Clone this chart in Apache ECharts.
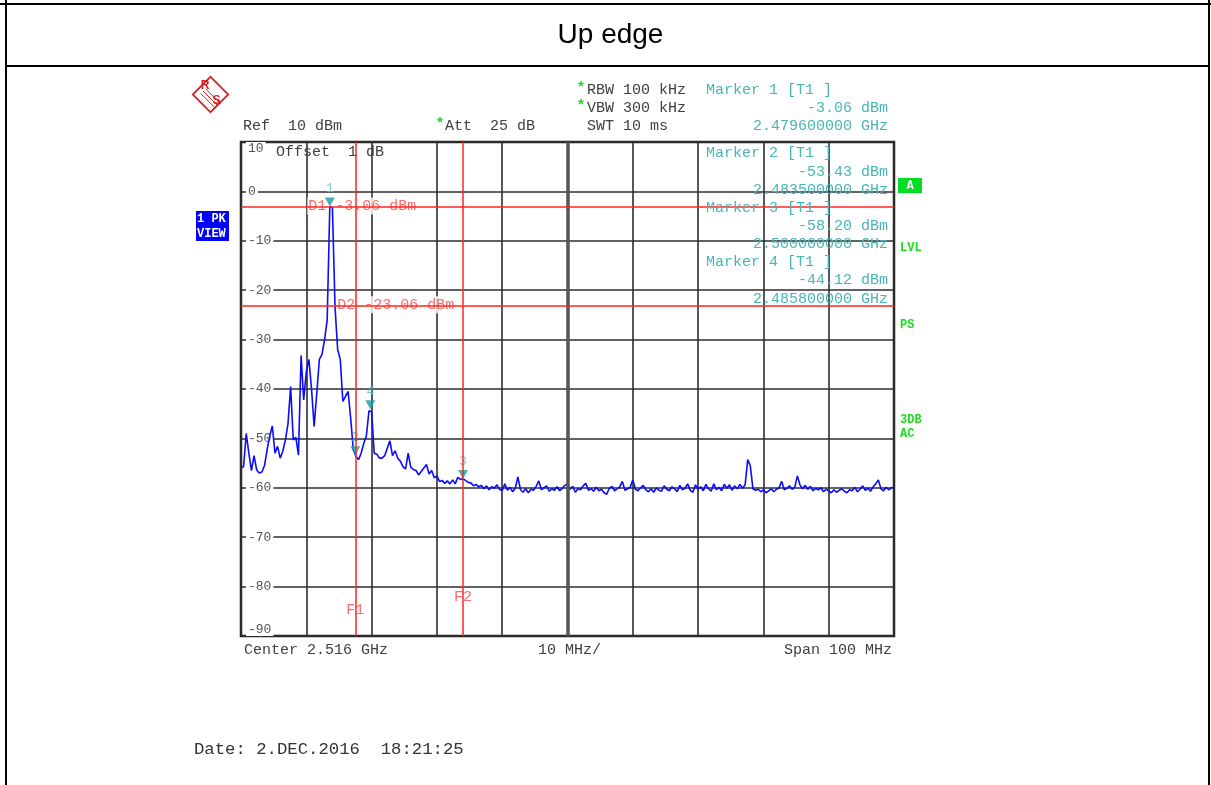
<!DOCTYPE html>
<html><head><meta charset="utf-8">
<script src="https://cdn.jsdelivr.net/npm/echarts@6/dist/echarts.min.js"></script>
<style>html,body{margin:0;padding:0;background:#fff}#c{width:1211px;height:785px}</style>
</head><body><div id="c"></div>
<script>
// ---- sweep settings ----
const centerMHz = 2516;
const spanMHz = 100;
const divMHz = 10;
const sweepStartMHz = 2466;
const sweepStepMHz = 0.4;
const refLevel = 10;
const bottomLevel = -90;
const levelStep = 10;

// ---- trace (dBm), one value per sweep point ----
const traceLevels = [
-56.0,-55.7,-49.0,-53.0,-56.5,-53.5,-56.4,-57.0,-56.8,-55.5,
-52.3,-49.5,-47.5,-53.0,-51.6,-54.0,-52.6,-50.3,-47.0,-39.5,
-50.3,-49.8,-53.4,-33.2,-42.2,-36.5,-34.0,-40.0,-47.6,-40.9,
-34.0,-33.0,-30.0,-26.0,-3.06,-3.3,-23.4,-32.0,-34.0,-42.5,
-41.5,-40.5,-46.0,-52.3,-53.6,-54.3,-53.0,-51.0,-49.5,-44.4,
-44.6,-53.0,-53.2,-54.0,-54.0,-53.5,-52.0,-50.5,-53.5,-52.5,
-54.0,-54.6,-55.7,-56.2,-53.0,-55.8,-56.3,-56.5,-57.4,-56.7,
-56.0,-55.3,-57.2,-56.5,-58.0,-57.6,-58.7,-58.5,-59.1,-58.6,
-59.2,-58.4,-59.2,-57.9,-58.3,-58.2,-58.5,-58.9,-59.0,-59.6,
-59.3,-59.8,-59.5,-60.2,-59.6,-60.4,-59.8,-60.1,-59.4,-60.3,
-60.6,-59.2,-60.5,-59.9,-60.8,-60.1,-57.8,-60.4,-60.9,-60.2,
-61.0,-60.3,-60.5,-59.7,-58.6,-60.4,-60.0,-59.6,-60.7,-60.2,
-60.5,-59.8,-60.6,-60.1,-59.5,-59.2,-60.3,-59.7,-60.9,-60.2,
-60.4,-59.6,-59.1,-60.5,-60.2,-60.7,-59.9,-60.6,-60.3,-61.0,
-61.3,-60.1,-59.7,-60.6,-60.2,-59.8,-58.7,-60.5,-60.2,-59.9,
-58.4,-60.3,-60.6,-60.0,-59.5,-60.4,-60.8,-60.2,-60.9,-60.0,
-60.5,-60.7,-59.6,-60.3,-60.6,-59.8,-60.2,-60.8,-59.5,-60.4,
-60.1,-59.2,-60.5,-60.9,-59.4,-60.3,-59.8,-60.6,-59.3,-60.2,
-60.7,-59.2,-60.4,-59.9,-60.6,-59.3,-60.1,-59.4,-60.5,-59.6,
-60.2,-59.3,-60.1,-59.4,-54.3,-55.6,-60.2,-60.5,-60.3,-60.8,
-60.4,-61.0,-60.6,-60.2,-60.8,-60.3,-60.0,-58.7,-60.4,-60.1,
-59.6,-60.3,-59.9,-57.6,-59.4,-60.2,-59.5,-60.3,-59.7,-60.6,
-60.1,-60.4,-60.0,-60.8,-60.3,-60.6,-61.0,-60.4,-60.9,-60.5,
-60.2,-60.7,-61.0,-60.4,-60.6,-59.9,-60.8,-60.3,-59.6,-60.5,
-60.1,-60.7,-59.8,-59.2,-58.4,-60.2,-60.6,-59.9,-60.4,-60.0,-59.9
];

// ---- markers ----
const markerNames = ['1', '2', '3', '4'];
const markerFreqGHz = [2.4796, 2.4835, 2.5000, 2.4858];
const markerLevels = [-3.06, -53.43, -58.20, -44.12];

// ---- display lines ----
const dLineNames = ['D1', 'D2'];
const dLineLevels = [-3.06, -23.06];
const fLineNames = ['F1', 'F2'];
const fLineFreqGHz = [2.4835, 2.5000];

// ---- styles ----
const MONO = '"Liberation Mono","DejaVu Sans Mono",monospace';
const GRAY = '#404040';
const TEAL = '#46b6b6';
const RED = '#ff2424';
const GREEN = '#1edc1e';
const LOGO = '#d42020';

const toX = mhz => mhz - centerMHz;
const traceData = traceLevels.map((v, i) => [toX(sweepStartMHz + i * sweepStepMHz), v]);

function txt(x, y, text, o) {
  o = o || {};
  return {
    type: 'text', z: o.z || 50, silent: true,
    style: {
      x: x, y: y, text: text,
      fill: o.fill || GRAY,
      font: (o.bold ? 'bold ' : '') + (o.size || 15) + 'px ' + (o.family || MONO),
      textAlign: o.align || 'left', textVerticalAlign: 'middle',
      align: o.align || 'left', verticalAlign: 'middle'
    }
  };
}
function line(x1, y1, x2, y2, w, c) {
  return { type: 'line', silent: true, z: 40, shape: { x1, y1, x2, y2 }, style: { stroke: c || '#000', lineWidth: w || 2 } };
}

const graphics = [];
// page frame
graphics.push(line(0, 4, 1211, 4, 2));
graphics.push(line(6, 66, 1209, 66, 2));
graphics.push(line(6, 0, 6, 785, 2));
graphics.push(line(1209, 0, 1209, 785, 2));
graphics.push(txt(610.5, 35, 'Up edge', { size: 28, family: '"Liberation Sans",Arial,sans-serif', fill: '#000', align: 'center' }));

// R&S logo
graphics.push({ type: 'rect', silent: true, z: 40, x: 210.5, y: 94.5, rotation: Math.PI / 4,
  shape: { x: -12.5, y: -12.5, width: 25, height: 25 }, style: { fill: '#fff', stroke: LOGO, lineWidth: 1.8 } });
[-2.4, 0, 2.4].forEach(d => {
  graphics.push(line(203 + d, 91 - d, 218 + d, 106 - d, 1, LOGO));
});
graphics.push(txt(205, 86, 'R', { size: 12, bold: true, fill: LOGO, family: '"Liberation Sans",sans-serif', align: 'center' }));
graphics.push(txt(216.5, 100.5, 'S', { size: 12, bold: true, fill: LOGO, family: '"Liberation Sans",sans-serif', align: 'center' }));

// header
graphics.push(txt(243, 126, 'Ref  ' + refLevel + ' dBm'));
graphics.push(txt(435.5, 124, '*', { fill: GREEN, bold: true }));
graphics.push(txt(445, 126, 'Att  25 dB'));
graphics.push(txt(576.5, 88, '*', { fill: GREEN, bold: true }));
graphics.push(txt(587, 90, 'RBW 100 kHz'));
graphics.push(txt(576.5, 106, '*', { fill: GREEN, bold: true }));
graphics.push(txt(587, 108, 'VBW 300 kHz'));
graphics.push(txt(587, 126, 'SWT 10 ms'));
graphics.push(txt(276, 152, 'Offset  1 dB'));

// marker readouts
markerNames.forEach((n, k) => {
  const y0 = k === 0 ? 90 : 153.5 + (k - 1) * 54.4;
  const dy = k === 0 ? 18 : 18.2;
  graphics.push(txt(706, y0, 'Marker ' + n + ' [T1 ]', { fill: TEAL }));
  graphics.push(txt(888, y0 + dy, markerLevels[k].toFixed(2) + ' dBm', { fill: TEAL, align: 'right' }));
  graphics.push(txt(888, y0 + 2 * dy, markerFreqGHz[k].toFixed(9) + ' GHz', { fill: TEAL, align: 'right' }));
});

// footer
graphics.push(txt(244, 650, 'Center ' + (centerMHz / 1000).toFixed(3) + ' GHz'));
graphics.push(txt(538, 650, divMHz + ' MHz/'));
graphics.push(txt(892, 650, 'Span ' + spanMHz + ' MHz', { align: 'right' }));
graphics.push(txt(194, 749, 'Date: 2.DEC.2016  18:21:25', { size: 17.3, fill: '#333' }));

// side annotations
graphics.push({ type: 'rect', silent: true, z: 40, shape: { x: 196, y: 211, width: 33, height: 30 }, style: { fill: '#0000ff' } });
graphics.push(txt(197, 218.5, '1 PK', { fill: '#fff', bold: true, size: 12 }));
graphics.push(txt(197, 233.5, 'VIEW', { fill: '#fff', bold: true, size: 12 }));
graphics.push({ type: 'rect', silent: true, z: 40, shape: { x: 898, y: 178, width: 24, height: 15 }, style: { fill: '#00dd22' } });
graphics.push(txt(910, 185.5, 'A', { fill: '#fff', bold: true, size: 12, align: 'center' }));
graphics.push(txt(900, 248, 'LVL', { fill: GREEN, bold: true, size: 12 }));
graphics.push(txt(900, 325, 'PS', { fill: GREEN, bold: true, size: 12 }));
graphics.push(txt(900, 420, '3DB', { fill: GREEN, bold: true, size: 12 }));
graphics.push(txt(900, 434, 'AC', { fill: GREEN, bold: true, size: 12 }));

const refLineData = [
  { xAxis: 0, lineStyle: { color: '#555', width: 3.5 } },
  ...dLineLevels.map(v => ({ yAxis: v })),
  ...fLineFreqGHz.map(f => ({ xAxis: toX(f * 1000) }))
];

const labelItems = [
  ...dLineNames.map((n, k) => ({
    value: [toX(markerFreqGHz[0] * 1000), dLineLevels[k]],
    label: { formatter: n + ' ' + dLineLevels[k].toFixed(2) + ' dBm', position: [k === 0 ? -22 : 7, 0], align: 'left' }
  })),
  ...fLineNames.map((n, k) => ({
    value: [toX(fLineFreqGHz[k] * 1000), bottomLevel],
    label: { formatter: n, position: [0.5, k === 0 ? -25 : -38], align: 'center' }
  }))
];

const chart = echarts.init(document.getElementById('c'), null, { renderer: 'canvas' });
chart.setOption({
  animation: false,
  backgroundColor: '#fff',
  grid: { left: 241, top: 142, width: 653, height: 494, show: true, borderColor: '#222', borderWidth: 2.5, backgroundColor: '#fff' },
  xAxis: {
    type: 'value', min: -spanMHz / 2, max: spanMHz / 2, interval: divMHz,
    axisLine: { show: false }, axisTick: { show: false }, axisLabel: { show: false },
    splitLine: { show: true, lineStyle: { color: '#2e2e2e', width: 1.6 } }
  },
  yAxis: {
    type: 'value', min: bottomLevel, max: refLevel, interval: levelStep,
    axisLine: { show: false }, axisTick: { show: false },
    axisLabel: {
      inside: true, margin: 5, color: '#555', fontFamily: MONO, fontSize: 13,
      backgroundColor: '#fff', padding: [0, 2],
      showMinLabel: true, showMaxLabel: true,
      verticalAlignMaxLabel: 'top', verticalAlignMinLabel: 'bottom'
    },
    splitLine: { show: true, lineStyle: { color: '#2e2e2e', width: 1.6 } }
  },
  graphic: graphics,
  series: [
    {
      name: 'lines', type: 'line', data: [], z: 1, silent: true,
      markLine: {
        silent: true, symbol: ['none', 'none'], animation: false,
        label: { show: false },
        lineStyle: { color: RED, width: 1.5, type: 'solid' },
        emphasis: { disabled: true },
        data: refLineData
      }
    },
    {
      name: 'lineLabels', type: 'scatter', z: 2, silent: true,
      symbol: 'circle', symbolSize: 1, itemStyle: { color: 'rgba(0,0,0,0)' },
      label: {
        show: true, color: '#ff4444', fontFamily: MONO, fontSize: 15,
        verticalAlign: 'middle', backgroundColor: '#fff', padding: [1, 1]
      },
      data: labelItems
    },
    {
      name: 'trace', type: 'line', z: 3, silent: true,
      showSymbol: false, symbol: 'none',
      lineStyle: { color: '#0b0bff', width: 1.6 },
      data: traceData
    },
    {
      name: 'markers', type: 'scatter', z: 4, silent: true,
      symbol: 'path://M0,0L10,0L5,9Z', symbolSize: [10, 9], symbolOffset: [0, -4.5],
      itemStyle: { color: '#179f9f' },
      label: { show: true, formatter: '{b}', position: 'top', distance: 2, color: '#52bdbd', fontFamily: MONO, fontSize: 13 },
      data: markerNames.map((n, k) => ({ name: n, value: [toX(markerFreqGHz[k] * 1000), markerLevels[k]] }))
    }
  ]
});
</script>
</body></html>
